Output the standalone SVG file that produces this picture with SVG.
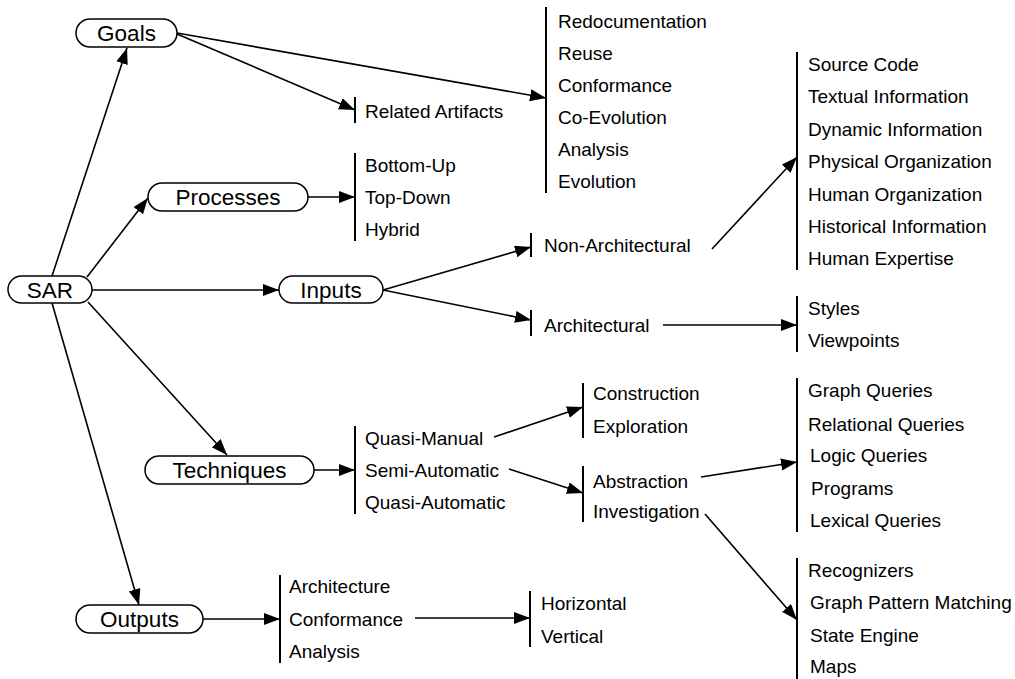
<svg xmlns="http://www.w3.org/2000/svg" width="1015" height="679" viewBox="0 0 1015 679">
<defs>
<marker id="ah" markerUnits="userSpaceOnUse" markerWidth="17" markerHeight="13" refX="16" refY="6" orient="auto">
<path d="M0,0 L16,6 L0,12 z" fill="#000"/>
</marker>
<style>
.pill{fill:#fff;stroke:#000;stroke-width:1.5}
.nl{font-family:"Liberation Sans",Arial,sans-serif;font-size:22.5px;fill:#000;text-anchor:middle}
.li{font-family:"Liberation Sans",Arial,sans-serif;font-size:19px;fill:#000}
.bar{stroke:#000;stroke-width:2}
.edge{stroke:#000;stroke-width:1.6;fill:none;marker-end:url(#ah)}
</style>
</defs>
<rect width="1015" height="679" fill="#fff"/>
<g id="connectors">
<line class="edge" x1="52" y1="276" x2="127" y2="48"/>
<line class="edge" x1="87" y1="277" x2="148" y2="198"/>
<line class="edge" x1="92" y1="290" x2="279" y2="290"/>
<line class="edge" x1="88" y1="302" x2="227" y2="455"/>
<line class="edge" x1="52" y1="303" x2="139" y2="605"/>
<line class="edge" x1="177" y1="34" x2="355" y2="110"/>
<line class="edge" x1="177" y1="33" x2="546" y2="98"/>
<line class="edge" x1="308" y1="197" x2="355" y2="197"/>
<line class="edge" x1="383" y1="290" x2="531" y2="247"/>
<line class="edge" x1="383" y1="290" x2="531" y2="320"/>
<line class="edge" x1="712" y1="249" x2="797" y2="157"/>
<line class="edge" x1="663" y1="325" x2="797" y2="325"/>
<line class="edge" x1="314" y1="470" x2="355" y2="470"/>
<line class="edge" x1="494" y1="437" x2="583" y2="407"/>
<line class="edge" x1="509" y1="469" x2="583" y2="493"/>
<line class="edge" x1="701" y1="477" x2="797" y2="462"/>
<line class="edge" x1="705" y1="514" x2="797" y2="620"/>
<line class="edge" x1="203" y1="619" x2="280" y2="619"/>
<line class="edge" x1="415" y1="618" x2="530" y2="618"/>
</g>
<g id="SAR"><rect class="pill" x="8" y="276" width="84" height="27" rx="13.5"/><text class="nl" x="50" y="298">SAR</text></g>
<g id="Goals"><rect class="pill" x="76" y="19" width="101" height="28" rx="14"/><text class="nl" x="126.5" y="41">Goals</text></g>
<g id="Processes"><rect class="pill" x="148" y="183" width="160" height="28" rx="14"/><text class="nl" x="228" y="205">Processes</text></g>
<g id="Inputs"><rect class="pill" x="279" y="276" width="104" height="27" rx="13.5"/><text class="nl" x="331" y="298">Inputs</text></g>
<g id="Techniques"><rect class="pill" x="145" y="456" width="169" height="28" rx="14"/><text class="nl" x="229.5" y="478">Techniques</text></g>
<g id="Outputs"><rect class="pill" x="76" y="605" width="127" height="28" rx="14"/><text class="nl" x="139.5" y="627">Outputs</text></g>
<g id="RelatedArtifacts"><line class="bar" x1="355" y1="97" x2="355" y2="123"/><text class="li" x="365" y="118">Related Artifacts</text></g>
<g id="GoalsList"><line class="bar" x1="546" y1="7" x2="546" y2="193"/>
<text class="li" x="558" y="28">Redocumentation</text>
<text class="li" x="558" y="60">Reuse</text>
<text class="li" x="558" y="92">Conformance</text>
<text class="li" x="558" y="124">Co-Evolution</text>
<text class="li" x="558" y="156">Analysis</text>
<text class="li" x="558" y="188">Evolution</text></g>
<g id="ProcessesList"><line class="bar" x1="355" y1="153" x2="355" y2="241"/>
<text class="li" x="365" y="172">Bottom-Up</text>
<text class="li" x="365" y="204">Top-Down</text>
<text class="li" x="365" y="236">Hybrid</text></g>
<g id="NonArchitectural"><line class="bar" x1="531" y1="233" x2="531" y2="257"/><text class="li" x="544" y="252">Non-Architectural</text></g>
<g id="Architectural"><line class="bar" x1="531" y1="310" x2="531" y2="336"/><text class="li" x="544" y="332">Architectural</text></g>
<g id="NonArchList"><line class="bar" x1="797" y1="52" x2="797" y2="270"/>
<text class="li" x="808" y="71">Source Code</text>
<text class="li" x="808" y="103">Textual Information</text>
<text class="li" x="808" y="136">Dynamic Information</text>
<text class="li" x="808" y="168">Physical Organization</text>
<text class="li" x="808" y="201">Human Organization</text>
<text class="li" x="808" y="233">Historical Information</text>
<text class="li" x="808" y="265">Human Expertise</text></g>
<g id="ArchList"><line class="bar" x1="797" y1="296" x2="797" y2="352"/>
<text class="li" x="808" y="315">Styles</text>
<text class="li" x="808" y="347">Viewpoints</text></g>
<g id="TechniquesList"><line class="bar" x1="355" y1="426" x2="355" y2="514"/>
<text class="li" x="365" y="445">Quasi-Manual</text>
<text class="li" x="365" y="477">Semi-Automatic</text>
<text class="li" x="365" y="509">Quasi-Automatic</text></g>
<g id="ManualList"><line class="bar" x1="583" y1="383" x2="583" y2="438"/>
<text class="li" x="593" y="400">Construction</text>
<text class="li" x="593" y="433">Exploration</text></g>
<g id="SemiList"><line class="bar" x1="583" y1="466" x2="583" y2="522"/>
<text class="li" x="593" y="488">Abstraction</text>
<text class="li" x="593" y="518">Investigation</text></g>
<g id="AbstractionList"><line class="bar" x1="797" y1="378" x2="797" y2="532"/>
<text class="li" x="808" y="397">Graph Queries</text>
<text class="li" x="808" y="431">Relational Queries</text>
<text class="li" x="810" y="462">Logic Queries</text>
<text class="li" x="811" y="495">Programs</text>
<text class="li" x="810" y="527">Lexical Queries</text></g>
<g id="InvestigationList"><line class="bar" x1="797" y1="558" x2="797" y2="679"/>
<text class="li" x="808" y="577">Recognizers</text>
<text class="li" x="810" y="609">Graph Pattern Matching</text>
<text class="li" x="810" y="642">State Engine</text>
<text class="li" x="810" y="673">Maps</text></g>
<g id="OutputsList"><line class="bar" x1="280" y1="575" x2="280" y2="663"/>
<text class="li" x="289" y="593">Architecture</text>
<text class="li" x="289" y="626">Conformance</text>
<text class="li" x="289" y="658">Analysis</text></g>
<g id="ConformanceList"><line class="bar" x1="530" y1="591" x2="530" y2="647"/>
<text class="li" x="541" y="610">Horizontal</text>
<text class="li" x="541" y="643">Vertical</text></g>
</svg>
